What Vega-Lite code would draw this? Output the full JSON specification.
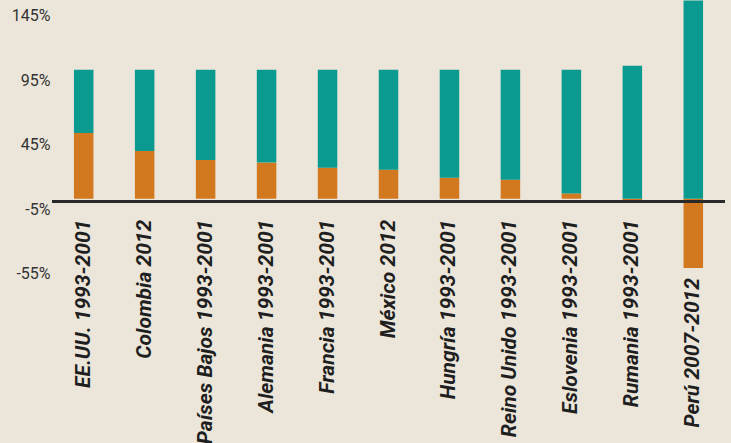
{
  "$schema": "https://vega.github.io/schema/vega-lite/v6.json",
  "width": 673,
  "height": 271,
  "autosize": {"type": "none"},
  "padding": {"left": 52, "top": 0, "right": 6, "bottom": 172},
  "background": "#ece6da",
  "config": {"view": {"stroke": null}},
  "data": {
    "values": [
      {"pais": "EE.UU. 1993-2001", "serie": "a", "valor": 51},
      {"pais": "EE.UU. 1993-2001", "serie": "b", "valor": 49},
      {"pais": "Colombia 2012", "serie": "a", "valor": 37},
      {"pais": "Colombia 2012", "serie": "b", "valor": 63},
      {"pais": "Países Bajos 1993-2001", "serie": "a", "valor": 30},
      {"pais": "Países Bajos 1993-2001", "serie": "b", "valor": 70},
      {"pais": "Alemania 1993-2001", "serie": "a", "valor": 28},
      {"pais": "Alemania 1993-2001", "serie": "b", "valor": 72},
      {"pais": "Francia 1993-2001", "serie": "a", "valor": 24},
      {"pais": "Francia 1993-2001", "serie": "b", "valor": 76},
      {"pais": "México 2012", "serie": "a", "valor": 22.5},
      {"pais": "México 2012", "serie": "b", "valor": 77.5},
      {"pais": "Hungría 1993-2001", "serie": "a", "valor": 16.3},
      {"pais": "Hungría 1993-2001", "serie": "b", "valor": 83.7},
      {"pais": "Reino Unido 1993-2001", "serie": "a", "valor": 14.7},
      {"pais": "Reino Unido 1993-2001", "serie": "b", "valor": 85.3},
      {"pais": "Eslovenia 1993-2001", "serie": "a", "valor": 4.1},
      {"pais": "Eslovenia 1993-2001", "serie": "b", "valor": 95.9},
      {"pais": "Rumania 1993-2001", "serie": "a", "valor": -2.5},
      {"pais": "Rumania 1993-2001", "serie": "b", "valor": 103},
      {"pais": "Perú 2007-2012", "serie": "a", "valor": -53.7},
      {"pais": "Perú 2007-2012", "serie": "b", "valor": 153.7}
    ]
  },
  "encoding": {
    "x": {
      "field": "pais",
      "type": "nominal",
      "sort": null,
      "scale": {"paddingInner": 0.68, "paddingOuter": 0.36},
      "axis": null
    }
  },
  "layer": [
    {
      "mark": {"type": "bar"},
      "encoding": {
        "y": {
          "field": "valor",
          "type": "quantitative",
          "stack": "zero",
          "scale": {"domain": [-56, 154], "nice": false, "zero": false},
          "axis": {
            "title": null,
            "values": [-55, -5, 45, 95, 145],
            "labelExpr": "datum.value + '%'",
            "grid": false,
            "ticks": false,
            "domain": false,
            "labelPadding": 2,
            "labelOffset": 4,
            "labelFont": "Roboto",
            "labelFontSize": 16,
            "labelColor": "#333333"
          }
        },
        "color": {
          "field": "serie",
          "type": "nominal",
          "scale": {"domain": ["a", "b"], "range": ["#d2781e", "#0a9a8f"]},
          "legend": null
        },
        "order": {"field": "serie"}
      }
    },
    {
      "mark": {"type": "rule", "color": "#2a2a2a", "strokeWidth": 2},
      "encoding": {"y": {"datum": -2}, "x": null}
    },
    {
      "transform": [{"filter": "datum.serie == 'a' && datum.valor >= -10"}],
      "mark": {
        "type": "text",
        "angle": 270,
        "align": "right",
        "baseline": "middle",
        "dx": -21,
        "font": "Roboto",
        "fontSize": 21,
        "fontWeight": "bold",
        "fontStyle": "italic",
        "color": "#1f1f1f"
      },
      "encoding": {
        "text": {"field": "pais"},
        "y": {"datum": 0}
      }
    },
    {
      "transform": [{"filter": "datum.serie == 'a' && datum.valor < -10"}],
      "mark": {
        "type": "text",
        "angle": 270,
        "align": "right",
        "baseline": "middle",
        "dx": -10,
        "font": "Roboto",
        "fontSize": 21,
        "fontWeight": "bold",
        "fontStyle": "italic",
        "color": "#1f1f1f"
      },
      "encoding": {
        "text": {"field": "pais"},
        "y": {"field": "valor", "type": "quantitative"}
      }
    }
  ]
}
